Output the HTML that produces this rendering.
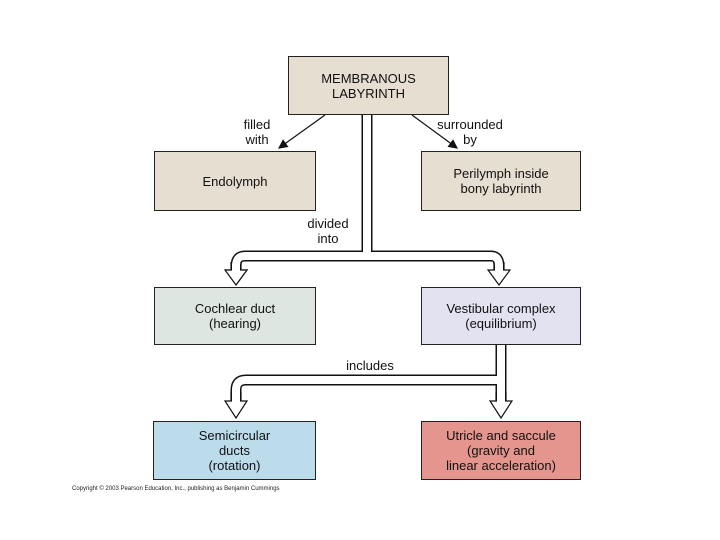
<!DOCTYPE html>
<html><head><style>
body{margin:0;width:720px;height:540px;background:#fff;overflow:hidden;position:relative;font-family:"Liberation Sans",sans-serif}
.b{position:absolute;border:1.5px solid #222;box-sizing:border-box;display:flex;align-items:center;justify-content:center;text-align:center;font-size:13px;line-height:15px;color:#111}
.t{position:absolute;font-size:13px;line-height:15px;color:#111;text-align:center}
</style></head><body>
<svg width="720" height="540" style="position:absolute;left:0;top:0">
<defs><marker id="a" markerWidth="8" markerHeight="8" refX="7" refY="4" orient="auto"><path d="M0,0 L8,4 L0,8 Z" fill="#111"/></marker></defs>
<line x1="325" y1="115" x2="279" y2="148" stroke="#111" stroke-width="1.2" marker-end="url(#a)"/>
<line x1="412" y1="115" x2="457" y2="148" stroke="#111" stroke-width="1.2" marker-end="url(#a)"/>
<g fill="none" stroke-linejoin="round">
<path d="M367,114 V256 H245 Q236,256 236,266 V272" stroke="#111" stroke-width="11"/>
<path d="M367,114 V256 H491 Q499,256 499,266 V272" stroke="#111" stroke-width="11"/>
<path d="M367,114 V256 H245 Q236,256 236,266 V274" stroke="#fff" stroke-width="8"/>
<path d="M367,114 V256 H491 Q499,256 499,266 V274" stroke="#fff" stroke-width="8"/>
<path d="M501,344 V380 H246 Q236,380 236,390 V402" stroke="#111" stroke-width="11"/>
<path d="M501,344 V402" stroke="#111" stroke-width="11"/>
<path d="M501,344 V380 H246 Q236,380 236,390 V404" stroke="#fff" stroke-width="8"/>
<path d="M501,344 V404" stroke="#fff" stroke-width="8"/>
</g>
<g fill="#fff" stroke="#111" stroke-width="1.2">
<path d="M225,270 H231 M241,270 H247 L236,285 Z"/>
<path d="M225,270 L247,270 L236,285 Z"/>
<path d="M488,270 L510,270 L499,285 Z"/>
<path d="M225,401 L247,401 L236,418 Z"/>
<path d="M490,401 L512,401 L501,418 Z"/>
</g>
<g stroke="#fff" stroke-width="8"><line x1="232" y1="268" x2="240" y2="268"/><line x1="495" y1="268" x2="503" y2="268"/><line x1="232" y1="399" x2="240" y2="399"/><line x1="497" y1="399" x2="505" y2="399"/></g>
<g stroke="#111" stroke-width="1.2"><line x1="231" y1="262" x2="231" y2="270"/><line x1="241" y1="262" x2="241" y2="270"/><line x1="494" y1="262" x2="494" y2="270"/><line x1="504" y1="262" x2="504" y2="270"/><line x1="231" y1="392" x2="231" y2="401"/><line x1="241" y1="392" x2="241" y2="401"/><line x1="496" y1="392" x2="496" y2="401"/><line x1="506" y1="392" x2="506" y2="401"/></g>
</svg>
<div class="b" style="left:288px;top:56px;width:161px;height:59px;background:#e6ded1">MEMBRANOUS<br>LABYRINTH</div>
<div class="b" style="left:154px;top:151px;width:162px;height:60px;background:#e6ded1">Endolymph</div>
<div class="b" style="left:421px;top:151px;width:160px;height:60px;background:#e6ded1">Perilymph inside<br>bony labyrinth</div>
<div class="b" style="left:154px;top:287px;width:162px;height:58px;background:#dde6e0">Cochlear duct<br>(hearing)</div>
<div class="b" style="left:421px;top:287px;width:160px;height:58px;background:#e3e2f1">Vestibular complex<br>(equilibrium)</div>
<div class="b" style="left:153px;top:421px;width:163px;height:59px;background:#bcdcec">Semicircular<br>ducts<br>(rotation)</div>
<div class="b" style="left:421px;top:421px;width:160px;height:59px;background:#e4958d">Utricle and saccule<br>(gravity and<br>linear acceleration)</div>
<div class="t" style="left:232px;top:117px;width:50px">filled<br>with</div>
<div class="t" style="left:425px;top:117px;width:90px">surrounded<br>by</div>
<div class="t" style="left:298px;top:216px;width:60px">divided<br>into</div>
<div class="t" style="left:335px;top:358px;width:70px">includes</div>
<div style="position:absolute;left:72px;top:486px;font-size:6px;color:#222;white-space:nowrap">Copyright © 2003 Pearson Education, Inc., publishing as Benjamin Cummings</div>
</body></html>
